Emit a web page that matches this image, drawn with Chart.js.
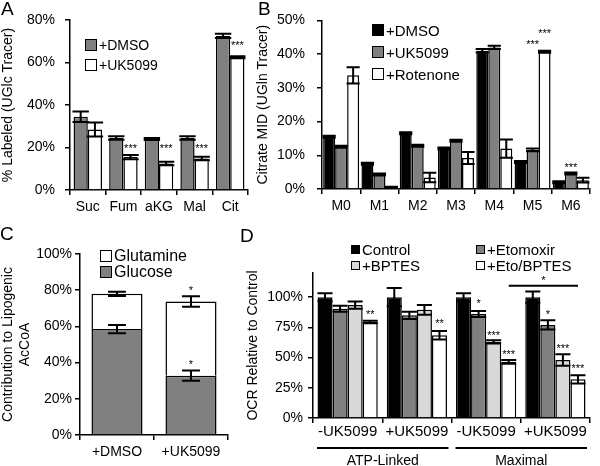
<!DOCTYPE html>
<html>
<head>
<meta charset="utf-8">
<script src="https://cdn.jsdelivr.net/npm/chart.js@4.4.1/dist/chart.umd.min.js"></script>
<style>
  body { margin: 0; background: #fff; font-family: Arial, 'Liberation Sans', sans-serif; }
  #fig { position: relative; width: 600px; height: 466px; overflow: hidden; }
  canvas { position: absolute; }
  .letra { position: absolute; font-size: 19px; line-height: 19px; color: #000; }
  .leg { position: absolute; color: #000; white-space: nowrap; }
  .leg div { display: flex; align-items: center; }
  .leg span.caixa { display: inline-block; box-sizing: border-box; border: 1.5px solid #000; margin-right: 2px; }
</style>
</head>
<body>
<div id="fig">
  <canvas id="gA" width="255" height="225" style="left:0;top:0"></canvas>
  <canvas id="gB" width="345" height="225" style="left:255px;top:0"></canvas>
  <canvas id="gC" width="245" height="241" style="left:0;top:225px"></canvas>
  <canvas id="gD" width="355" height="241" style="left:245px;top:225px"></canvas>
  <div class="letra" style="left:1px;top:-1px">A</div>
  <div class="letra" style="left:258px;top:-1px">B</div>
  <div class="letra" style="left:0;top:224px">C</div>
  <div class="letra" style="left:240px;top:226px">D</div>
</div>
<script>
// ---------------- Dados ----------------
// Painel A - % marcado (traçador UGlc)
const catA = ['Suc', 'Fum', 'aKG', 'Mal', 'Cit'];
const dmsoA = [34.5, 24.5, 24.0, 24.5, 72.5];
const dmsoAerr = [2.5, 0.8, 0.5, 0.8, 1.0];
const ukA = [28.5, 15.5, 12.5, 14.8, 62.5];
const ukAerr = [3.3, 1.0, 0.8, 0.8, 0.5];
const ukAestrelas = ['', '***', '***', '***', '***'];
const ukAestrelasEm = [null, 20.5, 20.5, 20.5, 69];
const ticksA = [0, 20, 40, 60, 80];

// Painel B - MID do citrato (traçador UGln)
const catB = ['M0', 'M1', 'M2', 'M3', 'M4', 'M5', 'M6'];
const dmsoB = [15.5, 7.5, 16.5, 12.0, 41.0, 8.0, 2.0];
const dmsoBerr = [0.3, 0.3, 0.3, 0.3, 0.5, 0.3, 0.3];
const ukB = [12.5, 4.3, 12.8, 14.3, 42.0, 11.6, 4.6];
const ukBerr = [0.3, 0.3, 0.3, 0.3, 0.5, 0.4, 0.3];
const ukBestrelas = ['', '', '', '', '', '***', '***'];
const ukBestrelasEm = [null, null, null, null, null, 43.6, 7.2];
const rotB = [33.7, 0.5, 3.4, 9.2, 12.0, 40.7, 2.6];
const rotBerr = [2.4, 0.2, 1.4, 1.8, 2.7, 0.3, 0.7];
const rotBestrelas = ['', '', '', '', '', '***', ''];
const rotBestrelasEm = [null, null, null, null, null, 46.9, null];
const ticksB = [0, 10, 20, 30, 40, 50];

// Painel C - contribuição para AcCoA lipogênico
const catC = ['+DMSO', '+UK5099'];
const glicoseC = [58.5, 32.8];
const glicoseCerr = [2.3, 2.8];
const glicoseCestrelas = ['', '*'];
const glicoseCestrelasEm = [null, 40.5];
const glutaminaC = [19.5, 41.0];
const glutaminaCerr = [1.2, 2.9];
const glutaminaCestrelas = ['', '*'];
const glutaminaCestrelasEm = [null, 81];
const ticksC = [0, 20, 40, 60, 80, 100];

// Painel D - OCR relativo ao controle
const catD = ['-UK5099', '+UK5099', '-UK5099', '+UK5099'];
const controleD = [100, 100, 100, 100];
const controleDerr = [3.3, 7.5, 3.3, 4.7];
const etoD = [90.5, 85.0, 86.0, 77.0];
const etoDerr = [2.5, 3.0, 2.5, 3.8];
const etoDestrelas = ['', '', '*', '*'];
const etoDestrelasEm = [null, null, 97, 87.5];
const bptesD = [93.5, 89.5, 63.0, 48.0];
const bptesDerr = [3.0, 4.0, 1.3, 4.7];
const bptesDestrelas = ['', '', '***', '***'];
const bptesDestrelasEm = [null, null, 70.5, 59.5];
const etoBptesD = [79.5, 68.5, 46.5, 32.0];
const etoBptesDerr = [1.0, 3.5, 1.5, 3.4];
const etoBptesDestrelas = ['**', '**', '***', '***'];
const etoBptesDestrelasEm = [87.5, 80, 54.5, 43];
const ticksD = [0, 25, 50, 75, 100];
const gruposD = ['ATP-Linked', 'Maximal'];
const gruposDinicio = [0, 2];
const gruposDfim = [1, 3];
// colchete entre -UK5099 e +UK5099 (Maximal), série Eto/BPTES
const colcheteDe = 2, colcheteAte = 3, colcheteNivel = 109.5, colcheteTextoEm = 116;

// ---------------- Estilo ----------------
const PRETO = '#000000';
const CINZA = '#808080';
const CINZA_CLARO = '#d9d9d9';
const BRANCO = '#ffffff';
const FONTE = "Arial, 'Liberation Sans', sans-serif";
Chart.defaults.font.family = FONTE;
Chart.defaults.color = '#000';

// barras de erro desenhadas na ponta de cada barra
const barrasDeErro = {
  id: 'barrasDeErro',
  afterDatasetsDraw(chart, args, opts) {
    const ctx = chart.ctx, y = chart.scales.y;
    ctx.save();
    ctx.strokeStyle = '#000';
    ctx.lineWidth = 2;
    chart.data.datasets.forEach((ds, i) => {
      if (!ds.erros) return;
      chart.getDatasetMeta(i).data.forEach((bar, j) => {
        const e = ds.erros[j];
        if (!e) return;
        const v = y.getValueForPixel(bar.y);
        const y1 = y.getPixelForValue(v + e), y2 = y.getPixelForValue(v - e);
        const meia = bar.width * opts.tampa / 2;
        ctx.beginPath();
        ctx.moveTo(bar.x, y1); ctx.lineTo(bar.x, y2);
        ctx.moveTo(bar.x - meia, y1); ctx.lineTo(bar.x + meia, y1);
        ctx.moveTo(bar.x - meia, y2); ctx.lineTo(bar.x + meia, y2);
        ctx.stroke();
      });
    });
    ctx.restore();
  }
};

// asteriscos de significância
const estrelas = {
  id: 'estrelas',
  afterDatasetsDraw(chart) {
    const ctx = chart.ctx, y = chart.scales.y;
    const fs = 11;
    ctx.save();
    ctx.fillStyle = '#000';
    ctx.font = fs + 'px ' + FONTE;
    ctx.textAlign = 'center';
    ctx.textBaseline = 'alphabetic';
    chart.data.datasets.forEach((ds, i) => {
      if (!ds.estrelas) return;
      chart.getDatasetMeta(i).data.forEach((bar, j) => {
        const s = ds.estrelas[j];
        if (!s) return;
        ctx.fillText(s, bar.x, y.getPixelForValue(ds.estrelasEm[j]) + fs * 0.55);
      });
    });
    ctx.restore();
  }
};

// colchete e grupos (ATP-Linked / Maximal) do painel D
const extrasD = {
  id: 'extrasD',
  afterDraw(chart) {
    const ctx = chart.ctx, x = chart.scales.x, y = chart.scales.y;
    const barras = chart.getDatasetMeta(3).data;
    ctx.save();
    ctx.strokeStyle = '#000';
    ctx.fillStyle = '#000';
    ctx.lineWidth = 2;
    // colchete
    const yc = y.getPixelForValue(colcheteNivel);
    ctx.beginPath();
    ctx.moveTo(barras[colcheteDe].x, yc);
    ctx.lineTo(barras[colcheteAte].x, yc);
    ctx.stroke();
    ctx.font = '11px ' + FONTE;
    ctx.textAlign = 'center';
    ctx.fillText('*', (barras[colcheteDe].x + barras[colcheteAte].x) / 2, y.getPixelForValue(colcheteTextoEm) + 6);
    // grupos
    const larg = x.width / catD.length;
    const yl = chart.chartArea.bottom + 30;
    ctx.font = '14px ' + FONTE;
    ctx.textBaseline = 'middle';
    for (let g = 0; g < gruposD.length; g++) {
      const x1 = x.getPixelForValue(gruposDinicio[g]) - larg / 2 + 4;
      const x2 = x.getPixelForValue(gruposDfim[g]) + larg / 2 - 3;
      ctx.beginPath();
      ctx.moveTo(x1, yl); ctx.lineTo(x2, yl);
      ctx.stroke();
      ctx.fillText(gruposD[g], (x1 + x2) / 2, yl + 13);
    }
    ctx.restore();
  }
};

function serie(label, dados, cor, erros, est, estEm) {
  return {
    label: label, data: dados, backgroundColor: cor,
    borderColor: PRETO, borderWidth: 1.5, borderSkipped: 'start',
    erros: erros, estrelas: est, estrelasEm: estEm
  };
}

// monta um gráfico com eixo e área de plotagem posicionados
function fazerGrafico(id, labels, datasets, o) {
  const grade = { display: true, drawOnChartArea: false, drawTicks: true, tickLength: 5, color: '#000', lineWidth: 1.5 };
  const borda = { display: true, color: '#000', width: 1.5 };
  return new Chart(document.getElementById(id), {
    type: 'bar',
    data: { labels: labels, datasets: datasets },
    plugins: [barrasDeErro, estrelas].concat(o.extras || []),
    options: {
      responsive: false,
      animation: false,
      layout: { padding: { top: o.topo, right: o.direita, left: 0, bottom: 0 } },
      datasets: { bar: { categoryPercentage: o.cat, barPercentage: 1 } },
      plugins: {
        legend: { display: false },
        tooltip: { enabled: false },
        barrasDeErro: { tampa: o.tampa }
      },
      scales: {
        x: {
          stacked: !!o.empilhado,
          grid: grade, border: borda,
          ticks: { font: { size: o.fonteX || 14 }, padding: o.padX, autoSkip: false, maxRotation: 0, minRotation: 0 },
          afterFit(s) { s.height = o.altX; }
        },
        y: {
          stacked: !!o.empilhado,
          min: 0, max: o.max,
          grid: grade, border: borda,
          ticks: { font: { size: 14 }, padding: o.padY, callback: v => v + '%' },
          afterBuildTicks(s) { s.ticks = o.ticks.map(v => ({ value: v })); },
          title: { display: true, text: o.titulo, font: { size: 14 }, padding: { top: 0, bottom: 0 }, color: '#000' },
          afterFit(s) { s.width = o.largY; }
        }
      }
    }
  });
}

// legenda em HTML a partir dos nomes e cores das séries
function legenda(esq, topo, nomes, cores, caixa, fonte, passo) {
  const el = document.createElement('div');
  el.className = 'leg';
  el.style.left = esq + 'px';
  el.style.top = topo + 'px';
  el.style.fontSize = fonte + 'px';
  nomes.forEach((n, i) => {
    const linha = document.createElement('div');
    linha.style.height = passo + 'px';
    const c = document.createElement('span');
    c.className = 'caixa';
    c.style.width = caixa + 'px';
    c.style.height = caixa + 'px';
    c.style.background = cores[i];
    linha.appendChild(c);
    linha.appendChild(document.createTextNode(n));
    el.appendChild(linha);
  });
  document.getElementById('fig').appendChild(el);
}

// ---------------- Painel A ----------------
fazerGrafico('gA', catA, [
  serie('+DMSO', dmsoA, CINZA, dmsoAerr),
  serie('+UK5099', ukA, BRANCO, ukAerr, ukAestrelas, ukAestrelasEm)
], { topo: 20, direita: 7, largY: 70, altX: 35, max: 80, ticks: ticksA, padY: 10, padX: 4,
     cat: 0.8, tampa: 1.15, titulo: '% Labeled (UGlc Tracer)' });
legenda(85, 35, ['+DMSO', '+UK5099'], [CINZA, BRANCO], 12, 14, 20);

// ---------------- Painel B ----------------
fazerGrafico('gB', catB, [
  serie('+DMSO', dmsoB, PRETO, dmsoBerr),
  serie('+UK5099', ukB, CINZA, ukBerr, ukBestrelas, ukBestrelasEm),
  serie('+Rotenone', rotB, BRANCO, rotBerr, rotBestrelas, rotBestrelasEm)
], { topo: 20, direita: 10, largY: 67, altX: 36, max: 50, ticks: ticksB, padY: 12, padX: 4,
     cat: 0.94, tampa: 1.1, titulo: 'Citrate MID (UGln Tracer)' });
legenda(372, 19, ['+DMSO', '+UK5099', '+Rotenone'], [PRETO, CINZA, BRANCO], 12, 15, 22);

// ---------------- Painel C ----------------
fazerGrafico('gC', catC, [
  serie('Glucose', glicoseC, CINZA, glicoseCerr, glicoseCestrelas, glicoseCestrelasEm),
  serie('Glutamine', glutaminaC, BRANCO, glutaminaCerr, glutaminaCestrelas, glutaminaCestrelasEm)
], { topo: 29, direita: 17, largY: 80, altX: 31, max: 100, ticks: ticksC, padY: 3, padX: 4,
     cat: 0.69, tampa: 0.35, empilhado: true, titulo: ['Contribution to Lipogenic', 'AcCoA'] });
legenda(100, 248, ['Glutamine', 'Glucose'], [BRANCO, CINZA], 12, 16, 16);

// ---------------- Painel D ----------------
fazerGrafico('gD', catD, [
  serie('Control', controleD, PRETO, controleDerr),
  serie('+Etomoxir', etoD, CINZA, etoDerr, etoDestrelas, etoDestrelasEm),
  serie('+BPTES', bptesD, CINZA_CLARO, bptesDerr, bptesDestrelas, bptesDestrelasEm),
  serie('+Eto/BPTES', etoBptesD, BRANCO, etoBptesDerr, etoBptesDestrelas, etoBptesDestrelasEm)
], { topo: 48, direita: 10, largY: 68, altX: 48, max: 120, ticks: ticksD, padY: 5, padX: 0, fonteX: 15,
     cat: 0.87, tampa: 1.0, titulo: 'OCR Relative to Control', extras: [extrasD] });
legenda(351, 241, ['Control', '+BPTES'], [PRETO, CINZA_CLARO], 9, 15, 16);
legenda(476, 241, ['+Etomoxir', '+Eto/BPTES'], [CINZA, BRANCO], 9, 15, 16);
</script>
</body>
</html>
